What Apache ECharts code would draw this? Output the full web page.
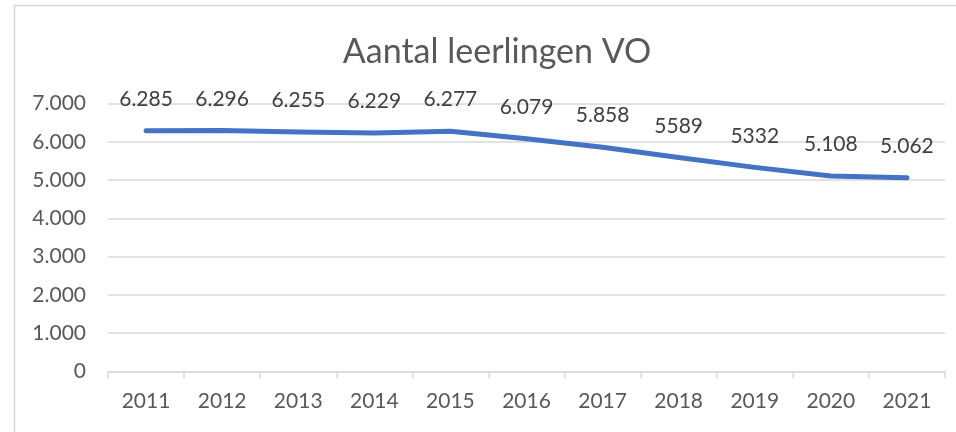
<!DOCTYPE html>
<html>
<head>
<meta charset="utf-8">
<script src="https://cdn.jsdelivr.net/npm/echarts@6/dist/echarts.min.js"></script>
<style>
html,body{margin:0;padding:0;background:#fff;}
#chart{width:956px;height:432px;}
</style>
</head>
<body>
<div id="chart"></div>
<script>
const categories = ['2011','2012','2013','2014','2015','2016','2017','2018','2019','2020','2021'];
const values = [6285, 6296, 6255, 6229, 6277, 6079, 5858, 5589, 5332, 5108, 5062];
const valueLabels = ['6.285','6.296','6.255','6.229','6.277','6.079','5.858','5589','5332','5.108','5.062'];
const yTicks = [0, 1000, 2000, 3000, 4000, 5000, 6000, 7000];

const font = 'Lato, "Open Sans", sans-serif';
const chart = echarts.init(document.getElementById('chart'));
chart.setOption({
  animation: false,
  backgroundColor: '#fff',
  graphic: [{
    type: 'rect', shape: {x: 14.5, y: 5.5, width: 960, height: 460},
    style: {fill: 'none', stroke: '#d9d9d9', lineWidth: 1.5}, silent: true
  }],
  title: {
    text: 'Aantal leerlingen VO',
    left: 492, top: 30, textAlign: 'center',
    textStyle: {fontFamily: font, fontSize: 34, fontWeight: 'normal', color: '#595959'}
  },
  grid: {left: 108, right: 11, top: 103.5, bottom: 60.5},
  xAxis: {
    type: 'category', data: categories, boundaryGap: true,
    axisLine: {lineStyle: {color: '#d9d9d9', width: 1.5}},
    axisTick: {show: true, length: 7, lineStyle: {color: '#d9d9d9', width: 1.5}},
    axisLabel: {fontFamily: font, fontSize: 21, color: '#595959', margin: 19}
  },
  yAxis: {
    type: 'value', min: yTicks[0], max: yTicks[yTicks.length-1], interval: 1000,
    axisLine: {show: false}, axisTick: {show: false},
    splitLine: {lineStyle: {color: '#d9d9d9', width: 1.5}},
    axisLabel: {fontFamily: font, fontSize: 21, color: '#595959', margin: 22,
      formatter: v => v === 0 ? '0' : v.toLocaleString('de-DE')}
  },
  series: [{
    type: 'line', data: values, symbol: 'circle', symbolSize: 2, showSymbol: true,
    itemStyle: {color: 'rgba(68,114,196,0)', borderWidth: 0},
    lineStyle: {color: '#4472C4', width: 5, cap: 'round', join: 'round'},
    label: {show: true, position: 'top', distance: 20,
      fontFamily: font, fontSize: 21, color: '#404040',
      formatter: p => valueLabels[p.dataIndex]}
  }]
});
</script>
</body>
</html>
